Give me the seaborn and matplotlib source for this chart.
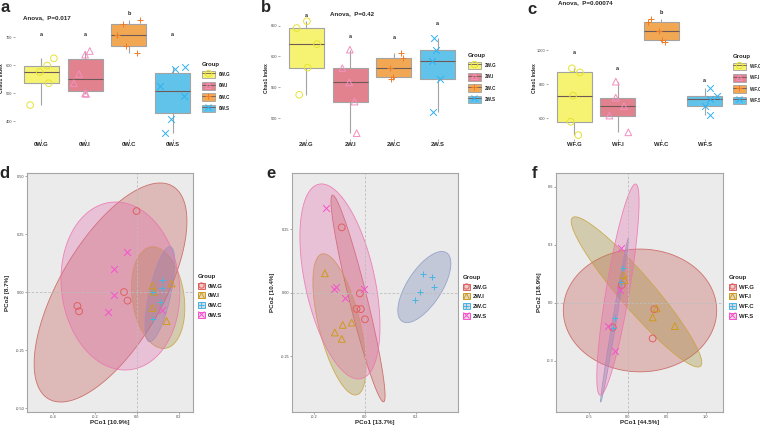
import numpy as np
import pandas as pd
import matplotlib
matplotlib.use('Agg')
import matplotlib.pyplot as plt
import matplotlib.colors as mcolors
import seaborn as sns
from matplotlib.patches import Patch
from matplotlib.lines import Line2D
from matplotlib.legend_handler import HandlerTuple

### Chao1 boxplots (a-c) and PCoA with group ellipses (d-f)

sns.set_theme(style='white')
plt.rcParams['font.family'] = ['Liberation Sans', 'DejaVu Sans']
np.random.seed(7)

# ---- alpha diversity (Chao1) ----
groups_0w = ['0W.G', '0W.I', '0W.C', '0W.S']
groups_2w = ['2W.G', '2W.I', '2W.C', '2W.S']
groups_wf = ['WF.G', 'WF.I', 'WF.C', 'WF.S']

chao_0w = [[458, 536, 576, 599, 625],
           [498, 500, 536, 569, 638, 651],
           [645, 670, 708, 746, 762],
           [357, 409, 490, 526, 586, 595]]
chao_2w = [[538, 582, 620, 646, 657],
           [476, 527, 558, 581, 611],
           [563, 566, 581, 597, 606],
           [510, 564, 593, 610, 630]]
chao_wf = [[502, 580, 733, 869, 893],
           [518, 616, 672, 721, 815],
           [1045, 1059, 1113, 1166, 1180],
           [620, 674, 711, 731, 776]]

letters_0w = ['a', 'a', 'b', 'a']
letters_2w = ['a', 'a', 'a', 'a']
letters_wf = ['a', 'a', 'b', 'a']
letter_y_0w = [711, 711, 786, 711]
letter_y_2w = [667, 632, 631, 654]
letter_y_wf = [984, 889, 1218, 824]

anova_0w = 'Anova,  P=0.017'
anova_2w = 'Anova,  P=0.42'
anova_wf = 'Anova,  P=0.00074'

# ---- PCoA coordinates ----
pc1_0w = [-0.002, -0.062, -0.045, -0.284, -0.276,
          0.074, 0.165, 0.079, 0.074, 0.141,
          0.117, 0.120, 0.078, 0.109, 0.078,
          -0.046, -0.110, -0.110, -0.137, 0.118]
pc2_0w = [0.349, 0.000, -0.037, -0.060, -0.083,
          0.028, 0.037, 0.001, -0.069, -0.125,
          0.051, 0.019, 0.001, -0.042, -0.115,
          0.174, 0.098, -0.013, -0.088, -0.077]
grp_0w = ['0W.G'] * 5 + ['0W.I'] * 5 + ['0W.C'] * 5 + ['0W.S'] * 5

pc1_2w = [-0.091, -0.020, -0.033, -0.016, 0.000,
          -0.157, -0.052, -0.087, -0.118, -0.091,
          0.226, 0.262, 0.216, 0.271, 0.196,
          -0.153, -0.114, -0.122, -0.078, -0.004]
pc2_2w = [0.257, -0.003, -0.064, -0.065, -0.105,
          0.076, -0.118, -0.127, -0.157, -0.182,
          0.072, 0.063, 0.002, 0.021, -0.029,
          0.332, 0.024, 0.013, -0.022, 0.015]
grp_2w = ['2W.G'] * 5 + ['2W.I'] * 5 + ['2W.C'] * 5 + ['2W.S'] * 5

pc1_wf = [-0.077, -0.192, 0.340, 0.319,
          -0.056, -0.043, 0.370, 0.319, 0.604,
          -0.056, -0.086, -0.162, -0.192,
          -0.086, -0.098, -0.248, -0.170]
pc2_wf = [0.092, -0.128, -0.034, -0.185,
          0.144, 0.118, -0.029, -0.076, -0.121,
          0.178, 0.109, -0.081, -0.133,
          0.285, 0.066, -0.121, -0.252]
grp_wf = ['WF.G'] * 4 + ['WF.I'] * 5 + ['WF.C'] * 4 + ['WF.S'] * 4

pco1_lab = ['PCo1 [10.9%]', 'PCo1 [13.7%]', 'PCo1 [44.5%]']
pco2_lab = ['PCo2 [8.7%]', 'PCo2 [10.4%]', 'PCo2 [18.9%]']

# ellipses per group: centre x, centre y, half width, half height, correlation
ellipse_0w = [(-0.126, -0.002, 0.364, 0.472, 0.65),
              (0.101, -0.024, 0.127, 0.219, -0.20),
              (0.109, -0.009, 0.071, 0.205, 0.67),
              (-0.079, 0.026, 0.283, 0.362, -0.08)]
ellipse_2w = [(-0.027, -0.023, 0.106, 0.407, -0.94),
              (-0.100, -0.125, 0.104, 0.278, -0.60),
              (0.233, 0.022, 0.104, 0.140, 0.66),
              (-0.098, 0.044, 0.157, 0.384, -0.46)]
ellipse_wf = [(0.157, -0.040, 0.983, 0.318, 0.00),
              (0.112, 0.056, 0.837, 0.389, -0.94),
              (-0.169, -0.090, 0.179, 0.424, 0.99),
              (-0.126, 0.068, 0.271, 0.547, 0.83)]

# ---- styles ----
box_fill  = ['#F6F372', '#E3828F', '#F2A852', '#62C3EA']
box_point = ['#E6E232', '#F28FBF', '#F07A26', '#2FB1F0']
pco_point = ['#E0605F', '#CF9A1E', '#45B6E2', '#F552CF']
ell_fill  = ['#C0524F', '#A08A30', '#6F7FB5', '#E46AAA']
ell_edge  = ['#C8605A', '#C9A23C', '#8C9CC4', '#EC72AE']
markers   = ['o', '^', '+', 'x']
open_mk   = [True, True, False, False]

W, H = 760, 426
fig = plt.figure(figsize=(W / 100, H / 100), dpi=100)


def add_ax(l, t, r, b):
    return fig.add_axes([l / W, 1 - b / H, (r - l) / W, (b - t) / H])


def style_points(colls, color, is_open, lw):
    for coll in colls:
        coll.set_edgecolor(color)
        coll.set_linewidth(lw)
        coll.set_facecolor('none' if is_open else color)


def box_panel(ax, groups, values, letters, letter_y, ylim, yticks,
              title, title_xy, leg_xy):
    df = pd.DataFrame({'Group': np.repeat(groups, [len(v) for v in values]),
                       'Chao1': np.concatenate(values)})
    sns.boxplot(data=df, x='Group', y='Chao1', hue='Group', order=groups,
                hue_order=groups, palette=box_fill, saturation=1, width=0.8,
                showfliers=False, showcaps=False, linecolor='#A3A3A3',
                linewidth=0.8, legend=False, ax=ax,
                medianprops=dict(color='#6E5858', linewidth=0.8))
    for i, g in enumerate(groups):
        n0 = len(ax.collections)
        sns.stripplot(data=df[df.Group == g], x='Group', y='Chao1',
                      order=groups, jitter=0.3, marker=markers[i], size=4.8,
                      ax=ax, zorder=4)
        style_points(ax.collections[n0:], box_point[i], open_mk[i], 0.7)
    for i, (lt, ly) in enumerate(zip(letters, letter_y)):
        ax.text(i, ly, lt, ha='center', va='center', fontsize=4,
                fontweight='bold')
    ax.text(title_xy[0], title_xy[1], title, ha='left', va='center',
            fontsize=4.5, fontweight='bold', clip_on=False)
    ax.set_xlim(-0.6, 3.6)
    ax.set_ylim(*ylim)
    ax.set_yticks(yticks)
    ax.set_xlabel('')
    ax.set_ylabel('Chao1 Index', fontsize=3.6, fontweight='bold')
    ax.yaxis.set_label_coords(-0.062, 0.46)
    sns.despine(ax=ax, left=True, bottom=True)
    ax.tick_params(axis='both', length=1.5, width=0.4, color='#666666',
                   pad=0.6, direction='out', left=True, bottom=True)
    ax.tick_params(axis='y', labelsize=2.8, labelcolor='#444444')
    ax.tick_params(axis='x', labelsize=4.2)
    for lab in ax.get_xticklabels():
        lab.set_fontweight('bold')
    handles = [(Patch(facecolor=box_fill[i], edgecolor='#A3A3A3', lw=0.6),
                Line2D([], [], color='#6E5858', lw=0.6),
                Line2D([], [], ls='none', marker=markers[i], ms=4.6,
                       mfc='none', mec=box_point[i], mew=0.7))
               for i in range(4)]
    leg = ax.legend(handles, groups, title='Group', loc='upper left',
                    bbox_to_anchor=(leg_xy[0] / W, 1 - leg_xy[1] / H),
                    bbox_transform=fig.transFigure, frameon=False,
                    fontsize=3.3, handlelength=2.8, handleheight=2.1,
                    labelspacing=0.85, handletextpad=0.8, borderpad=0,
                    borderaxespad=0, alignment='left',
                    handler_map={tuple: HandlerTuple(ndivide=1, pad=0)})
    leg.get_title().set_fontsize(4.3)
    leg.get_title().set_fontweight('bold')
    for t in leg.get_texts():
        t.set_fontweight('bold')


def pcoa_panel(ax, pc1, pc2, grp, groups, ellipses, xlim, ylim, xticks,
               yticks, yfmt, xlab, ylab, ylab_x, leg_xy):
    df = pd.DataFrame({'PCo1': pc1, 'PCo2': pc2, 'Group': grp})
    ax.set_facecolor('#EBEBEB')
    t = np.linspace(0, 2 * np.pi, 300)
    for i, (cx, cy, hx, hy, rho) in enumerate(ellipses):
        ex = cx + hx * np.cos(t)
        ey = cy + hy * (rho * np.cos(t) + np.sqrt(1 - rho ** 2) * np.sin(t))
        ax.fill(ex, ey, facecolor=mcolors.to_rgba(ell_fill[i], 0.32),
                edgecolor=mcolors.to_rgba(ell_edge[i], 0.85), lw=0.6,
                zorder=1)
    ax.axhline(0, color='#BDBDBD', ls=(0, (3, 2)), lw=0.6, zorder=1.5)
    ax.axvline(0, color='#BDBDBD', ls=(0, (3, 2)), lw=0.6, zorder=1.5)
    for i, g in enumerate(groups):
        n0 = len(ax.collections)
        sns.scatterplot(data=df[df.Group == g], x='PCo1', y='PCo2',
                        marker=markers[i], s=24, ax=ax, zorder=3)
        style_points(ax.collections[n0:], pco_point[i], open_mk[i], 0.7)
    ax.set_xlim(*xlim)
    ax.set_ylim(*ylim)
    ax.set_xticks(xticks)
    ax.set_yticks(yticks)
    ax.set_yticklabels([yfmt % v for v in yticks])
    ax.set_xticklabels(['%.1f' % v for v in xticks])
    ax.grid(False)
    for s in ax.spines.values():
        s.set_visible(True)
        s.set_color('#A5A5A5')
        s.set_linewidth(0.8)
    ax.tick_params(axis='both', length=1.5, width=0.4, color='#666666',
                   pad=0.6, labelsize=2.8, labelcolor='#444444',
                   left=True, bottom=True)
    ax.set_xlabel(xlab, fontsize=4.5, fontweight='bold', labelpad=1)
    ax.set_ylabel(ylab, fontsize=4.5, fontweight='bold')
    ax.yaxis.set_label_coords(ylab_x, 0.5)
    handles = [(Patch(facecolor=mcolors.to_rgba(ell_fill[i], 0.3),
                      edgecolor=pco_point[i], lw=0.7),
                Line2D([], [], ls='none', marker=markers[i], ms=3.8,
                       mfc='none', mec=pco_point[i], mew=0.7))
               for i in range(4)]
    leg = ax.legend(handles, groups, title='Group', loc='upper left',
                    bbox_to_anchor=(leg_xy[0] / W, 1 - leg_xy[1] / H),
                    bbox_transform=fig.transFigure, frameon=False,
                    fontsize=4.3, handlelength=1.15, handleheight=1.15,
                    labelspacing=0.62, handletextpad=0.5, borderpad=0,
                    borderaxespad=0, alignment='left',
                    handler_map={tuple: HandlerTuple(ndivide=1, pad=0)})
    leg.get_title().set_fontsize(4.4)
    leg.get_title().set_fontweight('bold')
    for tx in leg.get_texts():
        tx.set_fontweight('bold')


ax_a = add_ax(15, 7, 199, 139)
ax_b = add_ax(280, 7, 464, 139)
ax_c = add_ax(548, 7, 731, 139)
ax_d = add_ax(27, 173, 193, 412)
ax_e = add_ax(292, 173, 458, 412)
ax_f = add_ax(556, 173, 723, 412)

box_panel(ax_a, groups_0w, chao_0w, letters_0w, letter_y_0w, (337, 808),
          [400, 500, 600, 700], anova_0w, (-0.42, 769), (202, 62))
box_panel(ax_b, groups_2w, chao_2w, letters_2w, letter_y_2w, (466.5, 680),
          [500, 550, 600, 650], anova_2w, (0.55, 670), (468, 53))
box_panel(ax_c, groups_wf, chao_wf, letters_wf, letter_y_wf, (479, 1252),
          [600, 800, 1000], anova_wf, (-0.37, 1275), (733, 54))

pcoa_panel(ax_d, pc1_0w, pc2_0w, grp_0w, groups_0w, ellipse_0w,
           (-0.524, 0.267), (-0.517, 0.513), [-0.4, -0.2, 0.0, 0.2],
           [-0.5, -0.25, 0.0, 0.25, 0.5], '%.2f', pco1_lab[0], pco2_lab[0],
           -0.10, (198, 274))
pcoa_panel(ax_e, pc1_2w, pc2_2w, grp_2w, groups_2w, ellipse_2w,
           (-0.286, 0.365), (-0.470, 0.471), [-0.2, 0.0, 0.2],
           [-0.25, 0.0, 0.25], '%.2f', pco1_lab[1], pco2_lab[1],
           -0.10, (463, 275))
pcoa_panel(ax_f, pc1_wf, pc2_wf, grp_wf, groups_wf, ellipse_wf,
           (-0.92, 1.221), (-0.566, 0.672), [-0.5, 0.0, 0.5, 1.0],
           [-0.3, 0.0, 0.3, 0.6], '%.1f', pco1_lab[2], pco2_lab[2],
           -0.086, (729, 275))

# panel letters
for lt, (x, y) in zip('abcdef', [(5, 8), (266, 8), (532, 9),
                                 (4, 173), (271, 174), (535, 173)]):
    fig.text(x / W, 1 - y / H, lt, fontsize=12, fontweight='bold',
             ha='center', va='center')

fig.savefig('out.png', dpi=100)
